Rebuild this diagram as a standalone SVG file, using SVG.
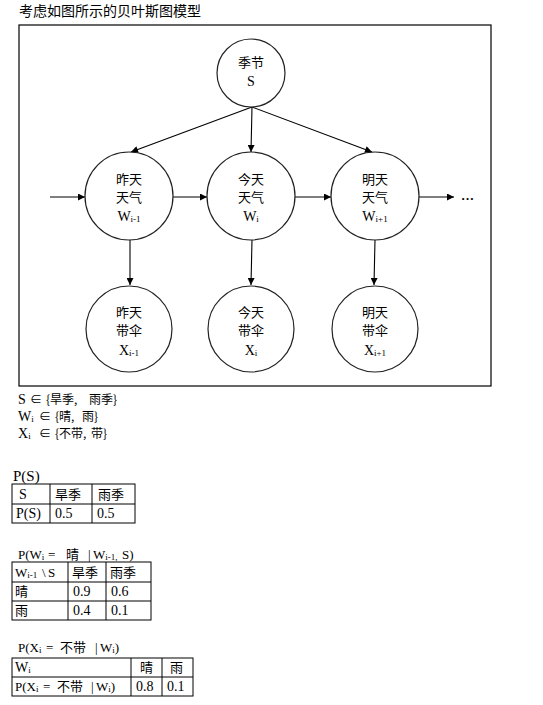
<svg xmlns="http://www.w3.org/2000/svg" width="543" height="705" viewBox="0 0 543 705">
<defs>
<marker id="ah" viewBox="0 0 10 10" refX="10" refY="5" markerWidth="8" markerHeight="7" markerUnits="userSpaceOnUse" orient="auto">
<path d="M0,0 L10,5 L0,10 z" fill="#000"/>
</marker>
<style>
.cjk{font-family:"Noto Sans CJK SC","Noto Sans",sans-serif;font-size:13px;fill:#000}
.ser{font-family:"Liberation Serif","Noto Sans CJK SC",serif;font-size:14px;fill:#000}
.f13{font-size:13px}
.node circle{fill:#fff;stroke:#222;stroke-width:1.2}
.edge{stroke:#000;stroke-width:1.1;fill:none;marker-end:url(#ah)}
.tb{fill:none;stroke:#000;stroke-width:1}
.sub{font-size:9px}
.dm{font-size:12px}
</style>
</defs>
<rect width="543" height="705" fill="#fff"/>
<text class="cjk" x="19" y="16" style="font-size:14px">考虑如图所示的贝叶斯图模型</text>
<rect x="19" y="25" width="472" height="361" fill="none" stroke="#000" stroke-width="1.2"/>

<g id="connectors">
<line class="edge" x1="252" y1="107" x2="131" y2="152"/>
<line class="edge" x1="252" y1="107" x2="251" y2="152"/>
<line class="edge" x1="252" y1="107" x2="372" y2="152"/>
<line class="edge" x1="50" y1="197" x2="85" y2="197"/>
<line class="edge" x1="173" y1="197" x2="207" y2="197"/>
<line class="edge" x1="295" y1="197" x2="331" y2="197"/>
<line class="edge" x1="419" y1="197" x2="454" y2="197"/>
<line class="edge" x1="130" y1="240" x2="130" y2="285"/>
<line class="edge" x1="252" y1="240" x2="251" y2="285"/>
<line class="edge" x1="375" y1="240" x2="374" y2="285"/>
</g>
<text class="ser" x="461" y="200" style="font-size:13px;font-weight:bold">…</text>

<g id="nodeS" class="node">
<circle cx="251" cy="73" r="34"/>
<text class="cjk" x="251" y="67" text-anchor="middle">季节</text>
<text class="ser" x="251" y="86" text-anchor="middle">S</text>
</g>

<g id="nodeW1" class="node">
<circle cx="129" cy="196" r="44"/>
<text class="cjk" x="129" y="184" text-anchor="middle">昨天</text>
<text class="cjk" x="129" y="202" text-anchor="middle">天气</text>
<text class="ser" x="129" y="221" text-anchor="middle">W<tspan class="sub" dy="1">i-1</tspan></text>
</g>
<g id="nodeW2" class="node">
<circle cx="251" cy="196" r="44"/>
<text class="cjk" x="251" y="184" text-anchor="middle">今天</text>
<text class="cjk" x="251" y="202" text-anchor="middle">天气</text>
<text class="ser" x="251" y="221" text-anchor="middle">W<tspan class="sub" dy="1">i</tspan></text>
</g>
<g id="nodeW3" class="node">
<circle cx="375" cy="196" r="44"/>
<text class="cjk" x="375" y="184" text-anchor="middle">明天</text>
<text class="cjk" x="375" y="202" text-anchor="middle">天气</text>
<text class="ser" x="375" y="221" text-anchor="middle">W<tspan class="sub" dy="1">i+1</tspan></text>
</g>

<g id="nodeX1" class="node">
<circle cx="129" cy="329" r="43"/>
<text class="cjk" x="129" y="317" text-anchor="middle">昨天</text>
<text class="cjk" x="129" y="335" text-anchor="middle">带伞</text>
<text class="ser" x="129" y="355" text-anchor="middle">X<tspan class="sub" dy="1">i-1</tspan></text>
</g>
<g id="nodeX2" class="node">
<circle cx="251" cy="329" r="43"/>
<text class="cjk" x="251" y="317" text-anchor="middle">今天</text>
<text class="cjk" x="251" y="335" text-anchor="middle">带伞</text>
<text class="ser" x="251" y="355" text-anchor="middle">X<tspan class="sub" dy="1">i</tspan></text>
</g>
<g id="nodeX3" class="node">
<circle cx="375" cy="329" r="43"/>
<text class="cjk" x="375" y="317" text-anchor="middle">明天</text>
<text class="cjk" x="375" y="335" text-anchor="middle">带伞</text>
<text class="ser" x="375" y="355" text-anchor="middle">X<tspan class="sub" dy="1">i+1</tspan></text>
</g>

<!-- domains -->
<text class="ser" x="18" y="404">S<tspan class="cjk dm" x="30">∈</tspan><tspan class="cjk dm" x="46">{旱季,</tspan><tspan class="cjk dm" x="89">雨季}</tspan></text>
<text class="ser" x="18" y="421">W<tspan class="sub" dy="1">i</tspan><tspan class="cjk dm" x="39" dy="-1">∈</tspan><tspan class="cjk dm" x="55">{晴,</tspan><tspan class="cjk dm" x="82">雨}</tspan></text>
<text class="ser" x="18" y="438">X<tspan class="sub" dy="1">i</tspan><tspan class="cjk dm" x="39" dy="-1">∈</tspan><tspan class="cjk dm" x="55">{不带,</tspan><tspan class="cjk dm" x="91">带}</tspan></text>

<!-- table 1 -->
<text class="ser" x="13" y="481" style="font-size:15px">P(S)</text>
<g class="tb">
<rect x="12" y="484" width="123" height="39"/>
<line x1="12" y1="504" x2="135" y2="504"/>
<line x1="50" y1="484" x2="50" y2="523"/>
<line x1="92" y1="484" x2="92" y2="523"/>
</g>
<text class="ser" x="19" y="499">S</text>
<text class="cjk" x="55" y="499">旱季</text>
<text class="cjk" x="98" y="499">雨季</text>
<text class="ser" x="16" y="518">P(S)</text>
<text class="ser" x="55" y="518">0.5</text>
<text class="ser" x="97" y="518">0.5</text>

<!-- table 2 -->
<text class="ser f13" x="18" y="559">P(W<tspan class="sub" dy="1">i</tspan><tspan x="48" dy="-1">=</tspan><tspan class="cjk" x="66">晴</tspan><tspan x="88">|</tspan><tspan x="93">W</tspan><tspan class="sub" dy="1">i-1,</tspan><tspan x="122" dy="-1">S)</tspan></text>
<g class="tb">
<rect x="12" y="562" width="139" height="58"/>
<line x1="12" y1="582" x2="151" y2="582"/>
<line x1="12" y1="601" x2="151" y2="601"/>
<line x1="68" y1="562" x2="68" y2="620"/>
<line x1="106" y1="562" x2="106" y2="620"/>
</g>
<text class="ser f13" x="15" y="577">W<tspan class="sub" dy="1">i-1</tspan><tspan x="42" dy="-1">\</tspan><tspan x="48">S</tspan></text>
<text class="cjk" x="72" y="577">旱季</text>
<text class="cjk" x="110" y="577">雨季</text>
<text class="cjk" x="15" y="596">晴</text>
<text class="ser" x="73" y="596">0.9</text>
<text class="ser" x="111" y="596">0.6</text>
<text class="cjk" x="15" y="615">雨</text>
<text class="ser" x="73" y="615">0.4</text>
<text class="ser" x="111" y="615">0.1</text>

<!-- table 3 -->
<text class="ser f13" x="18" y="652">P(X<tspan class="sub" dy="1">i</tspan><tspan x="46" dy="-1">=</tspan><tspan class="cjk" x="60">不带</tspan><tspan x="95">|</tspan><tspan x="100">W</tspan><tspan class="sub" dy="1">i</tspan><tspan dy="-1">)</tspan></text>
<g class="tb">
<rect x="12" y="658" width="181" height="38"/>
<line x1="12" y1="677" x2="193" y2="677"/>
<line x1="131" y1="658" x2="131" y2="696"/>
<line x1="162" y1="658" x2="162" y2="696"/>
</g>
<text class="ser" x="15" y="672">W<tspan class="sub" dy="1">i</tspan></text>
<text class="cjk" x="140" y="672">晴</text>
<text class="cjk" x="170" y="672">雨</text>
<text class="ser f13" x="15" y="691">P(X<tspan class="sub" dy="1">i</tspan><tspan x="43" dy="-1">=</tspan><tspan class="cjk" x="57">不带</tspan><tspan x="91">|</tspan><tspan x="96">W</tspan><tspan class="sub" dy="1">i</tspan><tspan dy="-1">)</tspan></text>
<text class="ser" x="136" y="691">0.8</text>
<text class="ser" x="167" y="691">0.1</text>
</svg>
